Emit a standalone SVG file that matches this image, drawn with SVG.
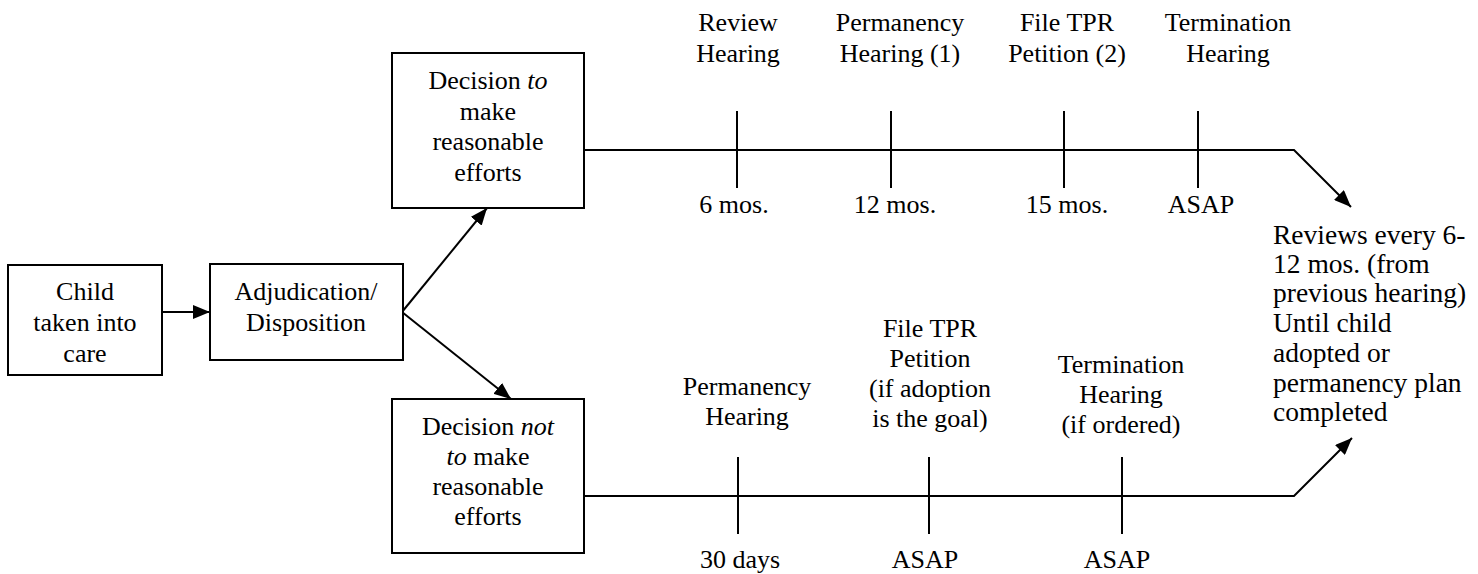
<svg xmlns="http://www.w3.org/2000/svg" width="1478" height="574" viewBox="0 0 1478 574" font-family="'Liberation Serif', Tinos, 'Times New Roman', 'DejaVu Serif', serif">
<style>
text{font-family:'Liberation Serif', Tinos, 'Times New Roman', 'DejaVu Serif', serif;font-size:26px;fill:#000;text-anchor:middle}
.l{text-anchor:start;font-size:27.5px}
.box{fill:#fff;stroke:#000;stroke-width:2}
.ln{fill:none;stroke:#000;stroke-width:2}
.arr{fill:none;stroke:#000;stroke-width:2;marker-end:url(#ah)}
</style>
<defs>
<marker id="ah" markerUnits="userSpaceOnUse" markerWidth="18" markerHeight="14" refX="17" refY="7" orient="auto">
<path d="M0,0 L17,7 L0,14 z" fill="#000"/>
</marker>
</defs>
<rect width="1478" height="574" fill="#fff"/>
<g id="connectors">
<line class="arr" x1="162" y1="312" x2="210" y2="312"/>
<line class="arr" x1="402" y1="312" x2="487" y2="208"/>
<line class="arr" x1="402" y1="312" x2="511" y2="399"/>
<polyline class="arr" points="584,150 1294,150 1351,207"/>
<polyline class="arr" points="584,496 1294,496 1352,438"/>
<line class="ln" x1="737" y1="111" x2="737" y2="188"/>
<line class="ln" x1="891" y1="111" x2="891" y2="188"/>
<line class="ln" x1="1064" y1="111" x2="1064" y2="188"/>
<line class="ln" x1="1198" y1="111" x2="1198" y2="188"/>
<line class="ln" x1="738" y1="457" x2="738" y2="534"/>
<line class="ln" x1="929" y1="457" x2="929" y2="534"/>
<line class="ln" x1="1122" y1="457" x2="1122" y2="534"/>
</g>
<g id="child">
<rect class="box" x="8" y="265" width="154" height="110"/>
<text x="85" y="300">Child</text>
<text x="85" y="331">taken into</text>
<text x="85" y="362">care</text>
</g>
<g id="adjudication">
<rect class="box" x="210" y="264" width="193" height="96"/>
<text x="306" y="300">Adjudication/</text>
<text x="306" y="331">Disposition</text>
</g>
<g id="decision-to">
<rect class="box" x="392" y="53" width="192" height="155"/>
<text x="488" y="89">Decision <tspan font-style="italic">to</tspan></text>
<text x="488" y="120">make</text>
<text x="488" y="150">reasonable</text>
<text x="488" y="181">efforts</text>
</g>
<g id="decision-not">
<rect class="box" x="392" y="399" width="192" height="154"/>
<text x="488" y="435">Decision <tspan font-style="italic">not</tspan></text>
<text x="488" y="465"><tspan font-style="italic">to</tspan> make</text>
<text x="488" y="495">reasonable</text>
<text x="488" y="525">efforts</text>
</g>
<g id="review-hearing">
<text x="738" y="31">Review</text>
<text x="738" y="62">Hearing</text>
<text x="734" y="213">6 mos.</text>
</g>
<g id="permanency-hearing-1">
<text x="900" y="31">Permanency</text>
<text x="900" y="62">Hearing (1)</text>
<text x="895" y="213">12 mos.</text>
</g>
<g id="file-tpr-2">
<text x="1067" y="31">File TPR</text>
<text x="1067" y="62">Petition (2)</text>
<text x="1067" y="213">15 mos.</text>
</g>
<g id="termination-hearing">
<text x="1228" y="31">Termination</text>
<text x="1228" y="62">Hearing</text>
<text x="1201" y="213">ASAP</text>
</g>
<g id="reviews">
<text class="l" x="1273" y="244">Reviews every 6-</text>
<text class="l" x="1273" y="273">12 mos. (from</text>
<text class="l" x="1273" y="302">previous hearing)</text>
<text class="l" x="1273" y="332">Until child</text>
<text class="l" x="1273" y="362">adopted or</text>
<text class="l" x="1273" y="392">permanency plan</text>
<text class="l" x="1273" y="421">completed</text>
</g>
<g id="permanency-hearing">
<text x="747" y="395">Permanency</text>
<text x="747" y="425">Hearing</text>
<text x="740" y="568">30 days</text>
</g>
<g id="file-tpr">
<text x="930" y="337">File TPR</text>
<text x="930" y="367">Petition</text>
<text x="930" y="397">(if adoption</text>
<text x="930" y="427">is the goal)</text>
<text x="925" y="568">ASAP</text>
</g>
<g id="termination-if-ordered">
<text x="1121" y="373">Termination</text>
<text x="1121" y="403">Hearing</text>
<text x="1121" y="433">(if ordered)</text>
<text x="1117" y="568">ASAP</text>
</g>
</svg>
